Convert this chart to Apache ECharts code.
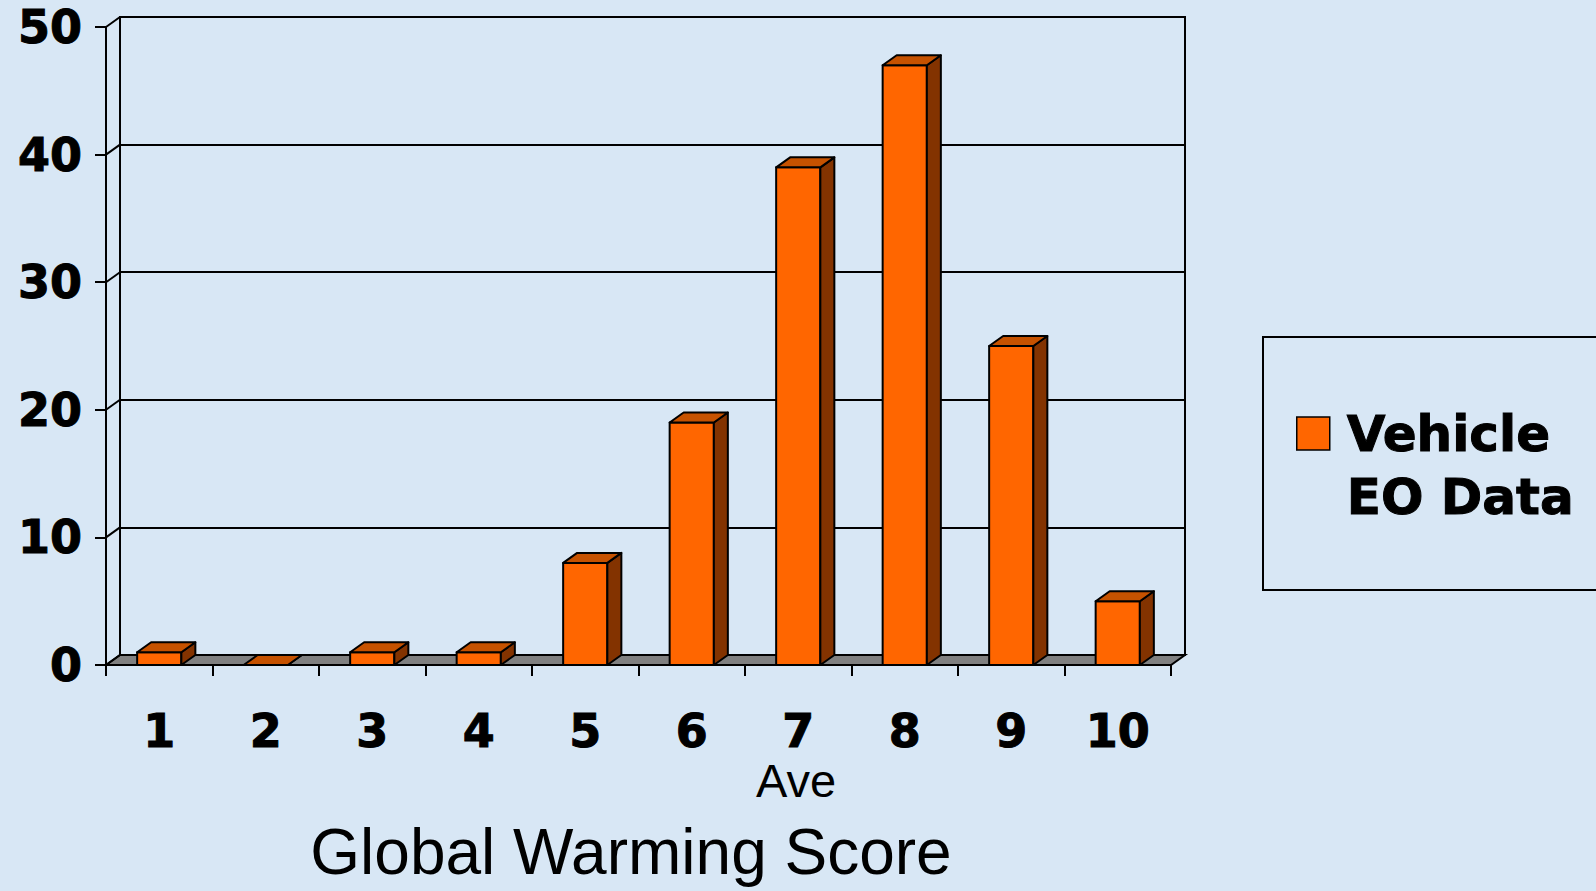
<!DOCTYPE html>
<html>
<head>
<meta charset="utf-8">
<script src="https://cdn.jsdelivr.net/npm/echarts@6/dist/echarts.min.js"></script>
<style>
html,body{margin:0;padding:0;background:#d8e7f5;}
#chart{width:1596px;height:891px;}
</style>
</head>
<body>
<div id="chart"></div>
<script>
// ---- data ----
const categories = ['1','2','3','4','5','6','7','8','9','10'];
const values = [1, 0, 1, 1, 8, 19, 39, 47, 25, 5];
const yTicks = [0, 10, 20, 30, 40, 50];
const seriesName = 'Vehicle EO Data';
const legendLines = ['Vehicle', 'EO Data'];
const axisName = 'Ave';
const chartTitle = 'Global Warming Score';

// ---- style ----
const FRONT = '#ff6600', TOP = '#c65200', SIDE = '#833300';
const DX = 14, DY = 10, BAR_RATIO = 0.415, LW = 2;
const HEAVY = { fontFamily: 'DejaVu Sans', fontWeight: 'bold', fontSize: 46, color: '#000',
  textBorderColor: '#000', textBorderWidth: 1 };

const chart = echarts.init(document.getElementById('chart'), null, { renderer: 'svg' });

function renderBar(params, api) {
  const idx = api.value(0), v = api.value(1);
  const top = api.coord([idx, v]);
  const base = api.coord([idx, 0]);
  const band = api.size([1, 0])[0];
  const w = band * BAR_RATIO;
  const x0 = top[0] - w / 2, x1 = top[0] + w / 2;
  const yT = top[1], yB = base[1];
  const st = { stroke: '#000', lineWidth: LW, lineJoin: 'round' };
  return { type: 'group', children: [
    { type: 'rect', shape: { x: x0, y: yT, width: w, height: yB - yT }, style: Object.assign({ fill: FRONT }, st) },
    { type: 'polygon', shape: { points: [[x1, yT], [x1 + DX, yT - DY], [x1 + DX, yB - DY], [x1, yB]] }, style: Object.assign({ fill: SIDE }, st) },
    { type: 'polygon', shape: { points: [[x0, yT], [x0 + DX, yT - DY], [x1 + DX, yT - DY], [x1, yT]] }, style: Object.assign({ fill: TOP }, st) }
  ]};
}

function renderFloor(params, api) {
  const cs = params.coordSys;
  const y0 = api.coord([0, 0])[1];
  const xa = cs.x, xb = cs.x + cs.width;
  return { type: 'polygon', shape: { points: [[xa, y0], [xb, y0], [xb + DX, y0 - DY], [xa + DX, y0 - DY]] },
    style: { fill: '#808080', stroke: '#000', lineWidth: LW } };
}

function renderSideWall(params, api) {
  const cs = params.coordSys;
  const y = api.coord([0, api.value(1)])[1];
  return { type: 'line', shape: { x1: cs.x, y1: y, x2: cs.x + DX, y2: y - DY },
    style: { stroke: '#000', lineWidth: LW } };
}

const option = {
  backgroundColor: '#d8e7f5',
  animation: false,
  title: [
    { text: axisName, left: 796, top: 757, textAlign: 'center', padding: 0,
      textStyle: { fontFamily: 'Liberation Sans, Arial', fontWeight: 'normal', fontSize: 47, lineHeight: 47, color: '#000' } },
    { text: chartTitle, left: 631, top: 820, textAlign: 'center', padding: 0,
      textStyle: { fontFamily: 'Liberation Sans, Arial', fontWeight: 'normal', fontSize: 64, lineHeight: 64, color: '#000' } }
  ],
  legend: {
    data: [{ name: seriesName, icon: 'rect' }],
    left: 1263, top: 337,
    orient: 'vertical',
    padding: [2, 120, 62, 33],
    borderColor: '#000', borderWidth: 2,
    itemWidth: 33, itemHeight: 33,
    itemStyle: { borderColor: '#000', borderWidth: 1.5 },
    selectedMode: false,
    formatter: () => ['', ...legendLines].join('\n'),
    textStyle: Object.assign({}, HEAVY, { fontSize: 50, lineHeight: 63, padding: [0, 0, 0, 12] })
  },
  grid: [
    { left: 106, top: 27, width: 1065, height: 638, show: false },
    { left: 120, top: 17, width: 1065, height: 638, show: true, borderColor: '#000', borderWidth: LW, backgroundColor: 'transparent' }
  ],
  xAxis: [
    { type: 'category', gridIndex: 0, data: categories,
      axisLine: { show: true, lineStyle: { color: '#000', width: LW } },
      axisTick: { show: true, length: 11, lineStyle: { color: '#000', width: LW } },
      axisLabel: Object.assign({ margin: 43, lineHeight: 46 }, HEAVY),
      splitLine: { show: false } },
    { type: 'category', gridIndex: 1, data: categories, show: false }
  ],
  yAxis: [
    { type: 'value', gridIndex: 0, min: 0, max: 50, interval: 10,
      axisLine: { show: true, lineStyle: { color: '#000', width: LW } },
      axisTick: { show: true, length: 11, lineStyle: { color: '#000', width: LW } },
      axisLabel: Object.assign({ margin: 24 }, HEAVY),
      splitLine: { show: false } },
    { type: 'value', gridIndex: 1, min: 0, max: 50, interval: 10,
      axisLine: { show: true, lineStyle: { color: '#000', width: LW } },
      axisTick: { show: false }, axisLabel: { show: false },
      splitLine: { show: true, lineStyle: { color: '#000', width: LW } } }
  ],
  series: [
    { type: 'custom', name: 'floor', xAxisIndex: 0, yAxisIndex: 0, z: 1, silent: true,
      renderItem: renderFloor, data: [[0, 0]], encode: { x: 0, y: 1 } },
    { type: 'custom', name: 'sidewall', xAxisIndex: 0, yAxisIndex: 0, z: 1, silent: true,
      renderItem: renderSideWall, data: yTicks.map(t => [0, t]), encode: { x: 0, y: 1 } },
    { type: 'custom', name: seriesName, xAxisIndex: 0, yAxisIndex: 0, z: 3,
      itemStyle: { color: FRONT, borderColor: '#000', borderWidth: 1.5 },
      renderItem: renderBar, data: values.map((v, i) => [i, v]), encode: { x: 0, y: 1 } }
  ]
};
chart.setOption(option);
</script>
</body>
</html>
